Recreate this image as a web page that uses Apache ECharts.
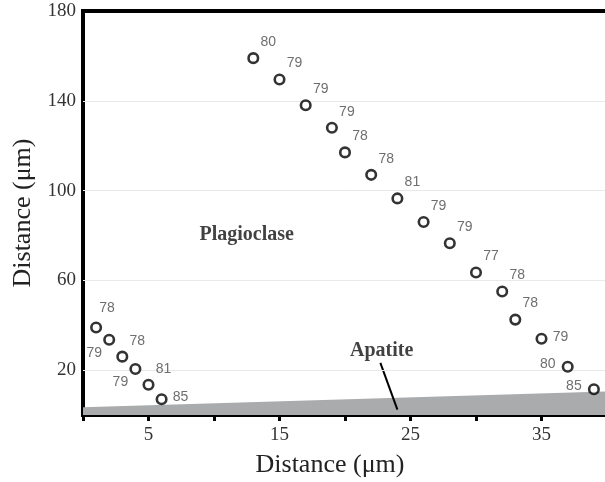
<!DOCTYPE html>
<html>
<head>
<meta charset="utf-8">
<script src="https://cdn.jsdelivr.net/npm/echarts@6/dist/echarts.min.js"></script>
<style>
html,body{margin:0;padding:0;background:#fff;}
#chart{width:605px;height:482px;}
</style>
</head>
<body>
<div id="chart"></div>
<script>
// ---- data ----
var clusterX = [1, 2, 3, 4, 5, 6];
var clusterY = [39, 33.5, 26, 20.5, 13.5, 7];
var clusterLabels = ['78', '79', '78', '79', '81', '85'];

var traverseX = [13, 15, 17, 19, 20, 22, 24, 26, 28, 30, 32, 33, 35, 37, 39];
var traverseY = [159, 149.5, 138, 128, 117, 107, 96.5, 86, 76.5, 63.5, 55, 42.5, 34, 21.5, 11.5];
var traverseLabels = ['80', '79', '79', '79', '78', '78', '81', '79', '79', '77', '78', '78', '79', '80', '85'];

var apatiteX = [0, 40];
var apatiteY = [3.5, 10.5];

var xTicks = [5, 15, 25, 35];
var yTicks = [20, 60, 100, 140, 180];
var gridY = [20, 60, 100, 140];

// label placements (style only)
var clusterPlace = ['n', 'sw', 'ne', 'sw', 'ne', 'e'];
var traversePlace = ['ne', 'ne', 'ne', 'ne', 'ne', 'ne', 'ne', 'ne', 'ne', 'ne', 'ne', 'ne', 'e', 'w', 'w'];
var placeOffset = {
  n: [11, -19], ne: [15, -16], sw: [-15, 13], e: [19, -2], w: [-20, -3]
};

function pts(xs, ys, labels, places) {
  return xs.map(function (x, i) {
    return {
      value: [x, ys[i]],
      label: { formatter: labels[i], offset: placeOffset[places[i]] }
    };
  });
}

var serif = '"Liberation Serif", "Times New Roman", serif';
var sans = '"Liberation Sans", Arial, sans-serif';

var chart = echarts.init(document.getElementById('chart'), null, { renderer: 'canvas' });

var pointStyle = {
  type: 'scatter',
  symbol: 'circle',
  symbolSize: 9.5,
  itemStyle: { color: '#fff', borderColor: '#000', borderWidth: 2.6 },
  label: {
    show: true, position: 'inside', fontFamily: sans, fontSize: 14,
    color: '#4a4a4a', align: 'center', verticalAlign: 'middle'
  },
  z: 5
};

chart.setOption({
  animation: false,
  backgroundColor: '#fff',
  grid: {
    left: 83, right: -2, top: 11, bottom: 67,
    outerBoundsMode: 'none', containLabel: false,
    show: true, borderColor: '#000', borderWidth: 4, backgroundColor: 'transparent'
  },
  xAxis: {
    type: 'value', min: 0, max: 40, interval: 5,
    name: 'Distance (μm)', nameLocation: 'middle', nameGap: 37,
    nameTextStyle: { fontFamily: serif, fontSize: 26, color: '#222', padding: [0, 30, 0, 0] },
    axisLine: { show: true, lineStyle: { color: '#000', width: 4 } },
    axisTick: { show: true, length: 6, lineStyle: { color: '#000', width: 3 } },
    axisLabel: {
      fontFamily: serif, fontSize: 19, color: '#333', margin: 11,
      formatter: function (v) { return xTicks.indexOf(v) >= 0 ? String(v) : ''; }
    },
    splitLine: { show: false }
  },
  yAxis: {
    type: 'value', min: 0, max: 180, interval: 20,
    name: 'Distance (μm)', nameLocation: 'middle', nameGap: 47,
    nameTextStyle: { fontFamily: serif, fontSize: 26, color: '#222' },
    axisLine: { show: true, lineStyle: { color: '#000', width: 4 } },
    axisTick: { show: false },
    axisLabel: {
      fontFamily: serif, fontSize: 19, color: '#333', margin: 7,
      formatter: function (v) { return yTicks.indexOf(v) >= 0 ? String(v) : ''; }
    },
    splitLine: { show: false }
  },
  series: [
    {
      type: 'line',
      data: apatiteX.map(function (x, i) { return [x, apatiteY[i]]; }),
      symbol: 'none',
      lineStyle: { width: 0 },
      areaStyle: { color: '#a9abad', opacity: 1 },
      z: 1,
      markLine: {
        silent: true, symbol: 'none',
        lineStyle: { color: '#e8e8e8', width: 1, type: 'solid' },
        label: { show: false },
        data: gridY.map(function (v) { return { yAxis: v }; })
      }
    },
    {
      type: 'line',
      data: [[22.7, 23.2], [24.0, 2.4]],
      symbol: 'none',
      lineStyle: { color: '#000', width: 2 },
      z: 3
    },
    {
      type: 'scatter',
      symbolSize: 0,
      data: [
        { value: [12.5, 80.2], label: { formatter: 'Plagioclase' } },
        { value: [22.8, 28.4], label: { formatter: 'Apatite' } }
      ],
      label: {
        show: true, position: 'inside', fontFamily: serif, fontWeight: 'bold',
        fontSize: 20, color: '#111'
      },
      z: 4
    },
    Object.assign({}, pointStyle, { data: pts(clusterX, clusterY, clusterLabels, clusterPlace) }),
    Object.assign({}, pointStyle, { data: pts(traverseX, traverseY, traverseLabels, traversePlace) })
  ]
});
</script>
</body>
</html>
